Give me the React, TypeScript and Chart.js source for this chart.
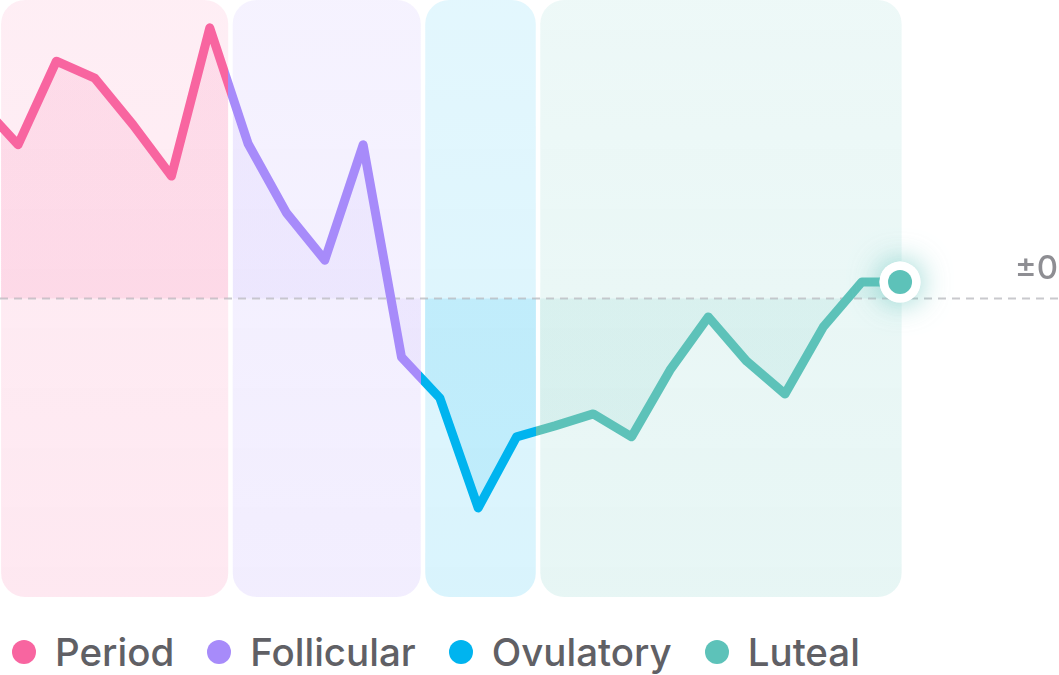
import React, { useEffect, useRef } from "react";
import { Chart, registerables } from "chart.js";

Chart.register(...registerables);

// ---- data ----
const days = [1, 2, 3, 4, 5, 6, 7, 8, 9, 10, 11, 12, 13, 14, 15, 16, 17, 18, 19, 20, 21, 22, 23, 24, 25];
const deviation = [
  0.393, 0.309, 0.477, 0.443, 0.349, 0.246, 0.544, 0.311, 0.172, 0.077, 0.309, -0.118, -0.2,
  -0.421, -0.278, -0.256, -0.232, -0.278, -0.144, -0.037, -0.126, -0.192, -0.057, 0.033, 0.033,
];
const phaseNames = ["Period", "Follicular", "Ovulatory", "Luteal"];
const phaseColors = ["#F865A0", "#A78BFA", "#00B4EF", "#5DC2B9"];
const phaseFillAlpha = [0.13, 0.09, 0.13, 0.12];
const phaseStart = [1.5, 7.54, 12.56, 15.56];
const phaseEnd = [7.54, 12.56, 15.56, 25.1];
const zeroLabel = "±0";

const X_MIN = 1.53;
const X_MAX = 29.145;
const Y_MIN = -0.6;
const Y_MAX = 0.6;
const GAP = 2.25;

function hexA(hex: string, a: number) {
  const n = parseInt(hex.slice(1), 16);
  return `rgba(${(n >> 16) & 255},${(n >> 8) & 255},${n & 255},${a})`;
}

function bandPixels(chart: any) {
  const xs = chart.scales.x;
  return phaseStart.map((s, i) => {
    const x0 = xs.getPixelForValue(s) + GAP;
    const x1 = xs.getPixelForValue(phaseEnd[i]) - GAP;
    return [x0, x1];
  });
}

function lineGradient(chart: any, fill: boolean) {
  const { ctx, chartArea } = chart;
  if (!chartArea) return fill ? "transparent" : phaseColors[0];
  const W = chart.width;
  const g = ctx.createLinearGradient(0, 0, W, 0);
  const bands = bandPixels(chart);
  const clamp = (v: number) => Math.max(0, Math.min(1, v / W));
  if (!fill) {
    let prev = 0;
    bands.forEach(([x0, x1], i) => {
      const end = i === bands.length - 1 ? W : x1;
      g.addColorStop(clamp(prev), phaseColors[i]);
      g.addColorStop(clamp(end), phaseColors[i]);
      prev = end + 0.01;
    });
  } else {
    g.addColorStop(0, "rgba(255,255,255,0)");
    bands.forEach(([x0, x1], i) => {
      const c = hexA(phaseColors[i], phaseFillAlpha[i]);
      g.addColorStop(clamp(x0 - 0.01), "rgba(255,255,255,0)");
      g.addColorStop(clamp(x0), c);
      g.addColorStop(clamp(x1), c);
      g.addColorStop(clamp(x1 + 0.01), "rgba(255,255,255,0)");
    });
    g.addColorStop(1, "rgba(255,255,255,0)");
  }
  return g;
}

const bandsPlugin = {
  id: "phaseBands",
  beforeDatasetsDraw(chart: any) {
    const { ctx, chartArea } = chart;
    const bands = bandPixels(chart);
    ctx.save();
    bands.forEach(([x0, x1], i) => {
      const g = ctx.createLinearGradient(0, chartArea.top, 0, chartArea.bottom);
      g.addColorStop(0, hexA(phaseColors[i], 0.11));
      g.addColorStop(1, hexA(phaseColors[i], 0.15));
      ctx.fillStyle = g;
      ctx.beginPath();
      (ctx as any).roundRect(x0, chartArea.top, x1 - x0, chartArea.bottom - chartArea.top, 24);
      ctx.fill();
    });
    // zero line
    const y0 = chart.scales.y.getPixelForValue(0);
    ctx.strokeStyle = "#C9C9CD";
    ctx.lineWidth = 2;
    ctx.setLineDash([8, 6]);
    ctx.beginPath();
    ctx.moveTo(0, y0);
    ctx.lineTo(chart.width, y0);
    ctx.stroke();
    ctx.setLineDash([]);
    ctx.fillStyle = "#8E8E93";
    ctx.font = "500 33px Inter";
    ctx.textAlign = "right";
    ctx.textBaseline = "alphabetic";
    ctx.fillText(zeroLabel, chart.width - 1, y0 - 20);
    ctx.restore();
  },
  afterDatasetsDraw(chart: any) {
    const { ctx } = chart;
    const meta = chart.getDatasetMeta(0);
    const pt = meta.data[meta.data.length - 1];
    if (!pt) return;
    const c = phaseColors[3];
    ctx.save();
    ctx.shadowColor = hexA(c, 0.75);
    ctx.shadowBlur = 30;
    ctx.fillStyle = "#FFFFFF";
    ctx.beginPath();
    ctx.arc(pt.x, pt.y, 20.5, 0, Math.PI * 2);
    ctx.fill();
    ctx.shadowBlur = 0;
    ctx.shadowColor = "transparent";
    ctx.beginPath();
    ctx.arc(pt.x, pt.y, 20.5, 0, Math.PI * 2);
    ctx.fill();
    ctx.fillStyle = c;
    ctx.beginPath();
    ctx.arc(pt.x, pt.y, 12, 0, Math.PI * 2);
    ctx.fill();
    ctx.restore();
  },
};

export default function App() {
  const ref = useRef<HTMLCanvasElement>(null);
  useEffect(() => {
    document.body.style.margin = "0";
    const canvas = ref.current!;
    const chart = new Chart(canvas, {
      type: "line",
      data: {
        datasets: [
          {
            label: "Deviation",
            data: days.map((d, i) => ({ x: d, y: deviation[i] })),
            borderColor: (ctx: any) => lineGradient(ctx.chart, false),
            backgroundColor: (ctx: any) => lineGradient(ctx.chart, true),
            fill: "origin",
            borderWidth: 9,
            borderJoinStyle: "round",
            borderCapStyle: "round",
            tension: 0,
            pointRadius: 0,
            pointHoverRadius: 0,
          },
        ],
      },
      options: {
        responsive: false,
        animation: false,
        events: [],
        layout: { padding: 0 },
        plugins: { legend: { display: false }, tooltip: { enabled: false } },
        scales: {
          x: { type: "linear", min: X_MIN, max: X_MAX, display: false },
          y: { type: "linear", min: Y_MIN, max: Y_MAX, display: false },
        },
      },
      plugins: [bandsPlugin],
    });
    return () => chart.destroy();
  }, []);

  return (
    <div style={{ position: "relative", width: 1059, height: 675, background: "#fff" }}>
      <canvas ref={ref} width={1059} height={597} style={{ display: "block" }} />
      <div
        style={{
          position: "absolute",
          left: 12,
          top: 628,
          height: 48,
          display: "flex",
          alignItems: "center",
          fontFamily: "Inter, sans-serif",
          fontWeight: 500,
          fontSize: 38.5,
          color: "#606065",
        }}
      >
        {phaseNames.map((n, i) => (
          <div key={n} style={{ display: "flex", alignItems: "center", marginRight: 33 }}>
            <span
              style={{
                display: "inline-block",
                width: 24,
                height: 24,
                borderRadius: 12,
                background: phaseColors[i],
                marginRight: 19,
              }}
            />
            <span style={{ lineHeight: "48px" }}>{n}</span>
          </div>
        ))}
      </div>
    </div>
  );
}
